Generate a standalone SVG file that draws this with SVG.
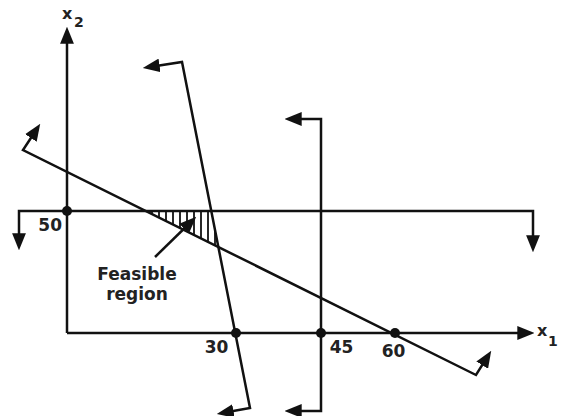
<svg xmlns="http://www.w3.org/2000/svg" width="567" height="416" viewBox="0 0 567 416">
<style>
.ln{fill:none;stroke:#111;stroke-width:2.5;stroke-linejoin:miter}
.ar{marker-start:url(#ah);marker-end:url(#ah)}
.hatch{stroke:#111;stroke-width:1.8}
.t{font-family:"DejaVu Sans",Verdana,sans-serif;font-weight:bold;fill:#222;font-size:17px}
.s{font-family:"DejaVu Sans",Verdana,sans-serif;font-weight:bold;fill:#222}
.dot{fill:#111}
</style>
<defs>
<marker id="ah" markerUnits="userSpaceOnUse" markerWidth="17" markerHeight="14" viewBox="0 0 16 13" refX="11" refY="6.5" orient="auto-start-reverse">
<path d="M0,0 L16,6.5 L0,13 z" fill="#111"/>
</marker>
<marker id="ae" markerUnits="userSpaceOnUse" markerWidth="17" markerHeight="14" viewBox="0 0 16 13" refX="11" refY="6.5" orient="auto">
<path d="M0,0 L16,6.5 L0,13 z" fill="#111"/>
</marker>
</defs>
<rect width="567" height="416" fill="#fff"/>
<g id="connectors">
<line id="axis-x2" class="ln" x1="67" y1="333" x2="67" y2="32" marker-end="url(#ae)"/>
<line id="axis-x1" class="ln" x1="67" y1="333" x2="529" y2="333" marker-end="url(#ae)"/>
<polyline id="c-x2-50" class="ln ar" points="19,245 19,211 533,211 533,247"/>
<polyline id="c-steep" class="ln ar" points="148,67.2 182,62 250,408 222,413.1"/>
<polyline id="c-x1-45" class="ln ar" points="290,119 321,119 321,411 290,411"/>
<polyline id="c-diag" class="ln ar" points="37.3,128.2 23,150 476,375 488.4,355.2"/>
<line id="label-arrow" class="ln" x1="155" y1="257" x2="192.4" y2="220.5" marker-end="url(#ae)"/>
</g>
<g id="feasible-region">
<line class="hatch" x1="152" y1="211" x2="152" y2="214.5"/>
<line class="hatch" x1="159" y1="211" x2="159" y2="218"/>
<line class="hatch" x1="166" y1="211" x2="166" y2="221.4"/>
<line class="hatch" x1="173" y1="211" x2="173" y2="224.9"/>
<line class="hatch" x1="180" y1="211" x2="180" y2="228.4"/>
<line class="hatch" x1="187" y1="211" x2="187" y2="231.9"/>
<line class="hatch" x1="194" y1="211" x2="194" y2="235.4"/>
<line class="hatch" x1="201" y1="211" x2="201" y2="238.8"/>
<line class="hatch" x1="208" y1="211" x2="208" y2="242.3"/>
<line class="hatch" x1="215" y1="229" x2="215" y2="245"/>
</g>
<g id="node-50">
<circle class="dot" cx="67" cy="211" r="5"/>
<text class="t" x="62" y="231" text-anchor="end">50</text>
</g>
<g id="node-30">
<circle class="dot" cx="236" cy="333" r="5"/>
<text class="t" x="216.5" y="353" text-anchor="middle">30</text>
</g>
<g id="node-45">
<circle class="dot" cx="321" cy="333" r="5"/>
<text class="t" x="341.5" y="353" text-anchor="middle">45</text>
</g>
<g id="node-60">
<circle class="dot" cx="395" cy="333" r="5"/>
<text class="t" x="393.5" y="357" text-anchor="middle">60</text>
</g>
<g id="label-x1">
<text class="s" x="537" y="336" font-size="16">x</text>
<text class="s" x="548" y="346" font-size="14">1</text>
</g>
<g id="label-x2">
<text class="s" x="62" y="19" font-size="16">x</text>
<text class="s" x="74" y="27" font-size="14">2</text>
</g>
<g id="label-feasible">
<text class="t" x="137" y="280" text-anchor="middle">Feasible</text>
<text class="t" x="137" y="300" text-anchor="middle">region</text>
</g>
</svg>
